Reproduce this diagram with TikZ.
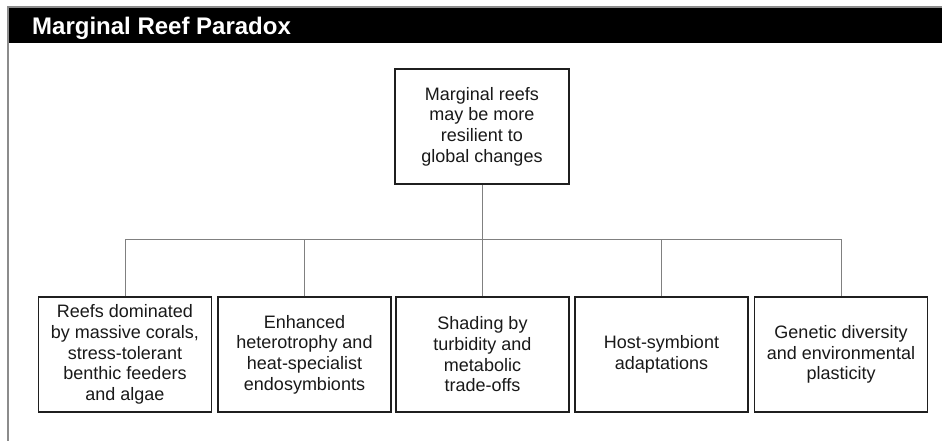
\documentclass[tikz,border=0pt]{standalone}
\usepackage{fontspec}
\setmainfont{Liberation Sans}
\begin{document}
\begin{tikzpicture}[x=1pt,y=-1pt,
  card/.style={draw=black!88, line width=1.5pt, fill=white,
    minimum width=173pt, minimum height=115pt, inner sep=2pt,
    align=center, font=\fontsize{18}{20.7}\selectfont, text=black!90},
  wire/.style={draw=black!50, line width=1pt},
  frame/.style={draw=black!45, line width=1.2pt}]
\useasboundingbox (0,0) rectangle (942,441);
\fill[white] (0,0) rectangle (942,441);

% header band and panel frame
\fill[black] (8,7) rectangle (942,43.5);
\draw[frame] (8,441) -- (8,7) -- (942,7);
\node[anchor=base west, inner sep=0, text=white,
  font=\fontsize{24}{28}\selectfont\bfseries] (title) at (32,35) {Marginal Reef Paradox};

% central claim
\node[card, minimum width=174pt] (top) at (482,126.5)
  {Marginal reefs\\may be more\\resilient to\\global changes};

% supporting mechanisms
\node[card] (b1) at (125,354.5)
  {Reefs dominated\\by massive corals,\\stress-tolerant\\benthic feeders\\and algae};
\node[card] (b2) at (304.5,354.5)
  {Enhanced\\heterotrophy and\\heat-specialist\\endosymbionts};
\node[card] (b3) at (482.5,354.5)
  {Shading by\\turbidity and\\metabolic\\trade-offs};
\node[card] (b4) at (661.5,354.5)
  {Host-symbiont\\adaptations};
\node[card] (b5) at (841,354.5)
  {Genetic diversity\\and environmental\\plasticity};

% branching connectors
\coordinate (bus) at (0,239);
\draw[wire] (top.south) -- (top.south |- bus);
\draw[wire] (b1.north) -- (b1.north |- bus) -- (b5.north |- bus) -- (b5.north);
\foreach \b in {b2,b3,b4}
  \draw[wire] (\b.north) -- (\b.north |- bus);
\end{tikzpicture}
\end{document}
